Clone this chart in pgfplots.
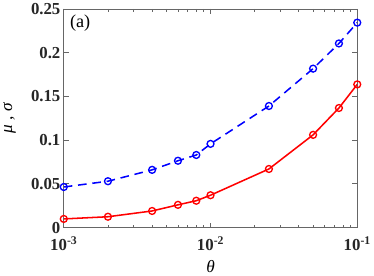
\documentclass[border=0pt]{standalone}
\usepackage{fontspec}
\setmainfont{Liberation Serif}
\usepackage{pgfplots}
\pgfplotsset{compat=1.18}
\begin{document}
\begin{tikzpicture}
\begin{axis}[
  xmode=log,
  scale only axis,
  width=306pt, height=228pt,
  xmin=1e-3, xmax=1e-1,
  ymin=0, ymax=0.25,
  xtick={1e-3,1e-2,1e-1},
  xticklabels={\textbf{10\textsuperscript{-3}},\textbf{10\textsuperscript{-2}},\textbf{10\textsuperscript{-1}}},
  ytick={0,0.05,0.1,0.15,0.2,0.25},
  yticklabels={\textbf{0},\textbf{0.05},\textbf{0.1},\textbf{0.15},\textbf{0.2},\textbf{0.25}},
  minor y tick num=0,
  tick align=inside,
  major tick length=5pt,
  minor tick length=3pt,
  axis line style={black!60, line width=0.8pt},
  every tick/.style={black!60, line width=0.8pt},
  tick label style={font=\fontsize{17.5}{19}\selectfont, text=black!85},
  xticklabel style={yshift=-6pt},
  label style={font=\fontsize{18}{20}\selectfont},
  xlabel={\itshape θ},
  ylabel={\itshape μ , σ},
  xlabel style={yshift=-3pt},
  ylabel style={yshift=9pt},
  every axis plot/.append style={line width=1.6pt, mark=o, mark size=3.6pt, mark options={solid, line width=1.4pt}},
]
\addplot[color=blue, dash pattern=on 9pt off 6pt] coordinates {
(1e-3,0.0464) (2e-3,0.053) (4e-3,0.066) (6e-3,0.0764) (8e-3,0.083) (1e-2,0.0957)
(2.5e-2,0.139) (5e-2,0.1817) (7.5e-2,0.2105) (1e-1,0.2343)
};
\addplot[color=red] coordinates {
(1e-3,0.0099) (2e-3,0.0124) (4e-3,0.019) (6e-3,0.026) (8e-3,0.0307) (1e-2,0.037)
(2.5e-2,0.067) (5e-2,0.106) (7.5e-2,0.1367) (1e-1,0.1637)
};
\node[anchor=north west, font=\fontsize{19}{21}\selectfont] at (rel axis cs:0.01,0.99) {(a)};
\end{axis}
\end{tikzpicture}
\end{document}
